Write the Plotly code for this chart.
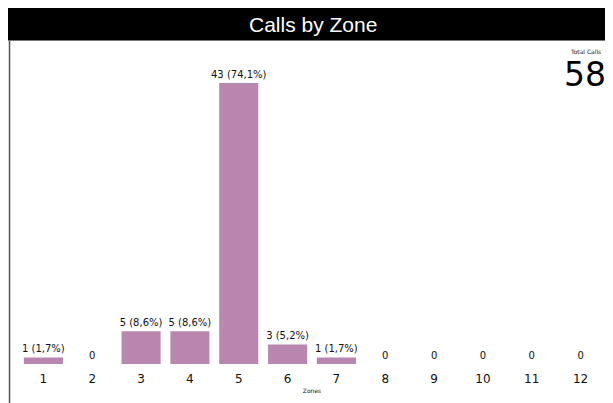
import plotly.graph_objects as go

zones = ["1", "2", "3", "4", "5", "6", "7", "8", "9", "10", "11", "12"]
calls = [1, 0, 5, 5, 43, 3, 1, 0, 0, 0, 0, 0]
total_calls = sum(calls)
labels = [f"{v} ({v/total_calls*100:.1f}%)".replace(".", ",") if v else "0" for v in calls]

OFF = 8  # page body margin
W, H = 605, 395
L, R, T, B = 10.5, 7.5, 62, 39
pw, ph = W - L - R, H - T - B

def px(x):  # page x -> paper
    return (x - OFF - L) / pw

def py(y):  # page y -> paper
    return (H - B - (y - OFF)) / ph

fig = go.Figure(go.Bar(
    x=zones, y=calls, text=labels, textposition="outside",
    marker=dict(color="#B886AE", line=dict(width=0)),
    textfont=dict(family="DejaVu Sans", size=10, color="#111"),
    constraintext="none", cliponaxis=False, width=0.8,
))

fig.update_layout(
    width=W, height=H, margin=dict(l=L, r=R, t=T, b=B),
    paper_bgcolor="white", plot_bgcolor="white", showlegend=False,
    xaxis=dict(type="category", showgrid=False, showline=False, ticks="",
               ticklabelstandoff=6,
               tickfont=dict(family="DejaVu Sans", size=12, color="#111"),
               title=dict(text="Zones", font=dict(family="DejaVu Sans", size=6, color="#222"), standoff=3)),
    yaxis=dict(range=[0, 45], visible=False),
    shapes=[
        dict(type="rect", xref="paper", yref="paper", x0=px(5), x1=px(620), y0=py(40), y1=py(7),
             fillcolor="black", line=dict(width=0)),
        dict(type="line", xref="paper", yref="paper", x0=px(9), x1=px(9), y0=py(40), y1=py(410),
             line=dict(color="#555", width=1.5)),
        dict(type="line", xref="paper", yref="paper", x0=px(5), x1=px(620), y0=py(40.5), y1=py(40.5),
             line=dict(color="#777", width=1)),
    ],
    annotations=[
        dict(text="Calls by Zone", xref="paper", yref="paper", x=px(313), y=py(24), showarrow=False,
             font=dict(family="Liberation Sans", size=21, color="white"), xanchor="center", yanchor="middle"),
        dict(text="Total Calls", xref="paper", yref="paper", x=px(586), y=py(52), showarrow=False,
             font=dict(family="DejaVu Sans", size=6, color="#222"), xanchor="center", yanchor="middle"),
        dict(text=str(total_calls), xref="paper", yref="paper", x=px(585), y=py(74), showarrow=False,
             font=dict(family="DejaVu Sans", size=33, color="black"), xanchor="center", yanchor="middle"),
    ],
)

fig.write_html("out.html")
